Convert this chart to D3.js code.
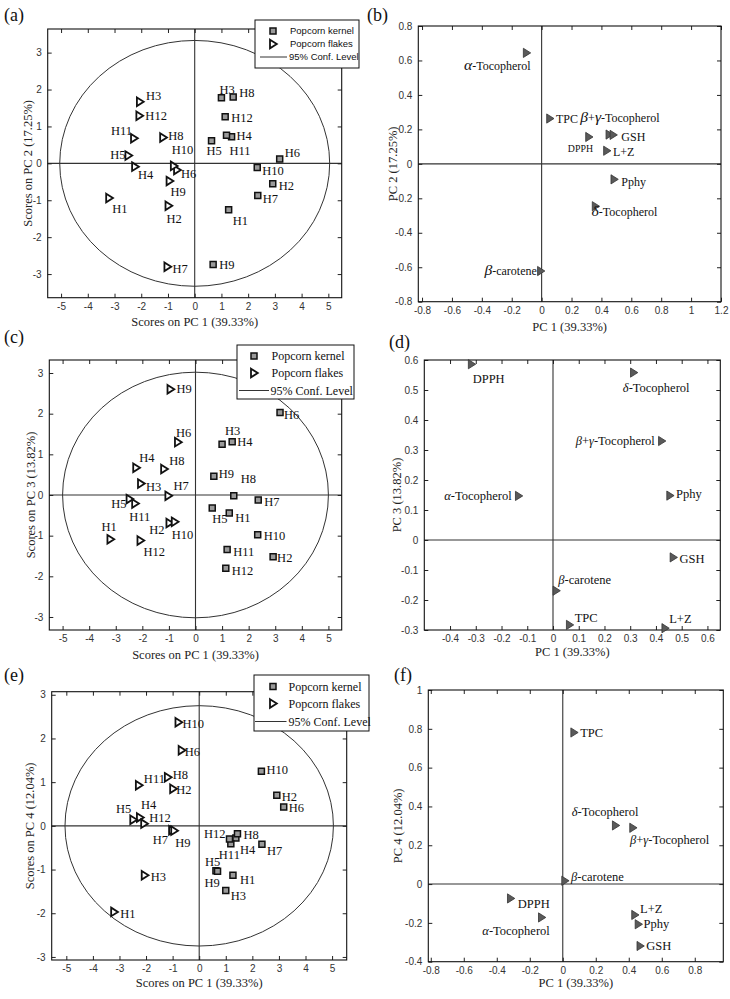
<!DOCTYPE html>
<html><head><meta charset="utf-8">
<script src="https://cdn.jsdelivr.net/npm/d3@7"></script>
<style>body{margin:0;background:#fff}svg{display:block}</style>
</head><body>
<svg id="chart" width="730" height="999"></svg>
<script>
// ---------------- DATA ----------------
const hybrids = ["H1","H2","H3","H4","H5","H6","H7","H8","H9","H10","H11","H12"];
// scores, popcorn kernel
const kernelPC1 = [1.27, 2.92, 1.00, 1.38, 0.63, 3.18, 2.36, 1.44, 0.69, 2.34, 1.19, 1.14];
const kernelPC2 = [-1.26, -0.55, 1.78, 0.72, 0.61, 0.12, -0.87, 1.80, -2.74, -0.11, 0.76, 1.26];
const kernelPC3 = [-0.44, -1.52, 1.25, 1.31, -0.32, 2.03, -0.12, -0.02, 0.46, -0.98, -1.34, -1.80];
const kernelPC4 = [-1.13, 0.70, -1.48, -0.28, -1.03, 0.43, -0.42, -0.18, -1.04, 1.25, -0.41, -0.30];
// scores, popcorn flakes
const flakesPC1 = [-3.20, -0.98, -2.05, -2.23, -2.48, -0.66, -1.02, -1.18, -0.94, -0.78, -2.27, -2.07];
const flakesPC2 = [-0.94, -1.15, 1.67, -0.09, 0.21, -0.18, -2.80, 0.70, -0.48, -0.07, 0.68, 1.29];
const flakesPC3 = [-1.09, -0.69, 0.28, 0.67, -0.10, 1.30, -0.02, 0.64, 2.60, -0.66, -0.21, -1.12];
const flakesPC4 = [-1.97, 0.85, -1.13, 0.19, 0.14, 1.73, -0.10, 1.11, -0.11, 2.37, 0.93, 0.05];
// loadings
const variables = ["α-Tocopherol","β+γ-Tocopherol","δ-Tocopherol","β-carotene","L+Z","TPC","DPPH","GSH","Pphy"];
const loadB_PC1 = [-0.10, 0.453, 0.361, -0.005, 0.437, 0.056, 0.317, 0.48, 0.486];
const loadB_PC2 = [0.644, 0.17, -0.246, -0.622, 0.076, 0.263, 0.156, 0.168, -0.09];
const loadD_PC1 = [-0.133, 0.423, 0.314, 0.013, 0.436, 0.065, -0.316, 0.468, 0.455];
const loadD_PC3 = [0.147, 0.33, 0.558, -0.169, -0.294, -0.283, 0.586, -0.058, 0.148];
const loadF_PC1 = [-0.127, 0.426, 0.321, 0.014, 0.438, 0.069, -0.315, 0.47, 0.459];
const loadF_PC4 = [-0.172, 0.29, 0.302, 0.017, -0.159, 0.781, -0.074, -0.319, -0.207];
// axis titles & legend text
const scoreXTitle = "Scores on PC 1 (39.33%)";
const loadXTitle = "PC 1 (39.33%)";
const legendText = ["Popcorn kernel","Popcorn flakes","95% Conf. Level"];
const ticksScoreX = [-5,-4,-3,-2,-1,0,1,2,3,4,5];
const ticksA_Y = [-3,-2,-1,0,1,2,3];
const ticksB_X = [-0.8,-0.6,-0.4,-0.2,0,0.2,0.4,0.6,0.8,1,1.2];
const ticksB_Y = [-0.8,-0.6,-0.4,-0.2,0,0.2,0.4,0.6,0.8];
const ticksD_X = [-0.4,-0.3,-0.2,-0.1,0,0.1,0.2,0.3,0.4,0.5,0.6];
const ticksD_Y = [-0.3,-0.2,-0.1,0,0.1,0.2,0.3,0.4,0.5,0.6];
const ticksF_X = [-0.8,-0.6,-0.4,-0.2,0,0.2,0.4,0.6,0.8];
const ticksF_Y = [-0.4,-0.2,0,0.2,0.4,0.6,0.8,1];

// ---------------- LABEL LAYOUT (anchor, dx, dy) ----------------
const labA_k = [["s",4,11],["s",6,2],["s",-2,-8],["s",5,-1],["s",-5,10],["s",5,-6],["s",5,3],["s",6,-4],["s",6,0],["s",5,3],["s",3,15],["s",6,1]];
const labA_f = [["s",3,11],["s",-2,13],["s",6,-6],["s",3,8],["e",-3,-1],["s",4,4],["s",5,2],["s",5,-2],["s",1,11],["s",-2,-16],["e",-2,-8],["s",6,0]];
const labC_k = [["s",6,5],["s",4,1],["s",3,-14],["s",5,0],["s",0,11],["s",4,2],["s",6,2],["s",7,-17],["s",5,-3],["s",6,1],["s",6,2],["s",6,2]];
const labC_f = [["s",-9,-13],["e",-5,7],["s",5,3],["s",3,-10],["e",-3,5],["s",-2,-10],["s",5,-10],["s",5,-8],["s",6,-1],["s",-3,13],["s",-6,13],["s",3,11]];
const labE_k = [["s",7,4],["s",5,1],["s",5,5],["s",4,12],["s",-11,-9],["s",5,1],["s",5,6],["s",6,1],["s",-13,11],["s",5,-2],["s",-12,11],["e",-4,-5]];
const labE_f = [["s",6,2],["s",3,1],["s",6,1],["s",1,-13],["e",-2,-11],["s",3,1],["e",-4,9],["s",5,-3],["s",1,12],["s",4,1],["s",5,-7],["s",5,-6]];
const labB = [["e",4,13],["s",-29,-17],["s",-4,6],["e",-4,0],["s",6,1],["s",6,0],["e",4,12,0.82],["s",8,2],["s",7,2]];
const labD = [["e",-7,0],["e",-7,0],["s",-11,15],["s",2,-11],["s",4,-10],["s",5,-7],["s",1,14],["s",6,1],["s",6,-2]];
const labF = [["e",8,13],["s",-3,12],["s",-44,-14],["s",6,-4],["s",5,-6],["s",6,0],["s",7,5],["s",6,0],["s",5,-1]];

// ---------------- DRAWING ----------------
const svg = d3.select("#chart");
const serif = "'Liberation Serif','Times New Roman',serif";
const sans = "'Liberation Sans',Arial,sans-serif";
const fmt = v => String(Math.round(v * 100) / 100);

function frame(cfg) {
  const g = svg.append("g");
  const x = d3.scaleLinear().domain(cfg.xDomain).range([cfg.left, cfg.right]);
  const y = d3.scaleLinear().domain(cfg.yDomain).range([cfg.bottom, cfg.top]);
  const w = cfg.right - cfg.left, h = cfg.bottom - cfg.top;
  const back = g.append("g");
  back.append("line").attr("x1", x(0)).attr("x2", x(0)).attr("y1", cfg.top).attr("y2", cfg.bottom)
    .attr("stroke", "#333").attr("stroke-width", 1.1);
  back.append("line").attr("x1", cfg.left).attr("x2", cfg.right).attr("y1", y(0)).attr("y2", y(0))
    .attr("stroke", "#333").attr("stroke-width", 1.1);
  const axStyle = sel => {
    sel.select(".domain").remove();
    sel.selectAll("line").attr("stroke", "#222");
    sel.selectAll("text").attr("font-family", sans).attr("font-size", 10).attr("fill", "#333");
  };
  const front = g.append("g");
  front.append("g").attr("transform", `translate(0,${cfg.bottom})`)
    .call(d3.axisBottom(x).tickValues(cfg.xTicks).tickSizeInner(-4).tickSizeOuter(0).tickPadding(5).tickFormat(fmt)).call(axStyle);
  front.append("g").attr("transform", `translate(0,${cfg.top})`)
    .call(d3.axisTop(x).tickValues(cfg.xTicks).tickSizeInner(-4).tickSizeOuter(0).tickFormat("")).call(axStyle);
  front.append("g").attr("transform", `translate(${cfg.left},0)`)
    .call(d3.axisLeft(y).tickValues(cfg.yTicks).tickSizeInner(-4).tickSizeOuter(0).tickPadding(6).tickFormat(fmt)).call(axStyle);
  front.append("g").attr("transform", `translate(${cfg.right},0)`)
    .call(d3.axisRight(y).tickValues(cfg.yTicks).tickSizeInner(-4).tickSizeOuter(0).tickFormat("")).call(axStyle);
  front.append("rect").attr("x", cfg.left).attr("y", cfg.top).attr("width", w).attr("height", h)
    .attr("fill", "none").attr("stroke", "#111").attr("stroke-width", 1.1);
  g.append("text").attr("x", (cfg.left + cfg.right) / 2).attr("y", cfg.xTitleY)
    .attr("text-anchor", "middle").attr("font-family", serif).attr("font-size", 12.5).attr("fill", "#222").text(cfg.xTitle);
  g.append("text").attr("transform", `translate(${cfg.yTitleX},${(cfg.top + cfg.bottom) / 2}) rotate(-90)`)
    .attr("text-anchor", "middle").attr("dy", "0.35em").attr("font-family", serif).attr("font-size", 12.5).attr("fill", "#222").text(cfg.yTitle);
  g.append("text").attr("x", cfg.letterX).attr("y", cfg.letterY).attr("font-family", serif).attr("font-size", 18)
    .attr("fill", "#111").text(cfg.letter);
  return { g, back, front, x, y };
}

const squarePath = "M-3,-3H3V3H-3Z";
const triOpen = "M-3,-4.3L3.8,0L-3,4.3Z";
const triFill = "M-3.3,-4.6L4,0L-3.3,4.6Z";

function putLabel(layer, px, py, text, lay, size, greekScale) {
  const [anc, dx, dy, sc] = lay;
  const t = layer.append("text").attr("x", px + dx).attr("y", py + dy).attr("dy", "0.35em")
    .attr("text-anchor", anc === "e" ? "end" : "start").attr("font-family", serif)
    .attr("font-size", size * (sc || 1)).attr("fill", "#111");
  const parts = text.match(/[α-ω]|[^α-ω]+/g);
  parts.forEach(p => {
    const ts = t.append("tspan").text(p);
    if (/[α-ω]/.test(p)) ts.attr("font-style", "italic").attr("font-size", size * (sc || 1) * greekScale);
  });
}

function scorePanel(cfg) {
  const { g, back, x, y } = frame(cfg);
  back.append("ellipse").attr("cx", x(0)).attr("cy", y(0))
    .attr("rx", x(cfg.ellipse[0]) - x(0)).attr("ry", y(0) - y(cfg.ellipse[1]))
    .attr("fill", "none").attr("stroke", "#333").attr("stroke-width", 1);
  const marks = g.append("g");
  hybrids.forEach((hname, i) => {
    const px = x(kernelPC1[i]), py = y(cfg.kY[i]);
    marks.append("path").attr("d", squarePath).attr("transform", `translate(${px},${py})`)
      .attr("fill", "#9a9a9a").attr("stroke", "#111").attr("stroke-width", 1.5);
    putLabel(marks, px, py, hname, cfg.kLab[i], 12.5, 1);
  });
  hybrids.forEach((hname, i) => {
    const px = x(flakesPC1[i]), py = y(cfg.fY[i]);
    marks.append("path").attr("d", triOpen).attr("transform", `translate(${px},${py})`)
      .attr("fill", "#fff").attr("stroke", "#111").attr("stroke-width", 1.8);
    putLabel(marks, px, py, hname, cfg.fLab[i], 12.5, 1);
  });
  const L = cfg.legend;
  const lg = g.append("g");
  lg.append("rect").attr("x", L.x0).attr("y", L.y0).attr("width", L.x1 - L.x0).attr("height", L.y1 - L.y0)
    .attr("fill", "#fff").attr("stroke", "#111").attr("stroke-width", 1);
  lg.append("path").attr("d", squarePath).attr("transform", `translate(${L.mx},${L.rows[0]})`)
    .attr("fill", "#9a9a9a").attr("stroke", "#111").attr("stroke-width", 1.5);
  lg.append("path").attr("d", triOpen).attr("transform", `translate(${L.mx},${L.rows[1]})`)
    .attr("fill", "#fff").attr("stroke", "#111").attr("stroke-width", 1.8);
  lg.append("line").attr("x1", L.lx0).attr("x2", L.lx1).attr("y1", L.rows[2]).attr("y2", L.rows[2])
    .attr("stroke", "#333").attr("stroke-width", 1);
  legendText.forEach((t, i) => {
    lg.append("text").attr("x", i === 2 ? L.tx2 : L.tx).attr("y", L.rows[i]).attr("dy", "0.35em")
      .attr("font-family", L.font).attr("font-size", L.size).attr("fill", "#111").text(t);
  });
}

function loadingPanel(cfg) {
  const { g, x, y } = frame(cfg);
  const marks = g.append("g");
  variables.forEach((v, i) => {
    const px = x(cfg.lx[i]), py = y(cfg.ly[i]);
    marks.append("path").attr("d", triFill).attr("transform", `translate(${px},${py})`)
      .attr("fill", "#5a5a5a").attr("stroke", "#333").attr("stroke-width", 0.8);
  });
  variables.forEach((v, i) => {
    const px = x(cfg.lx[i]), py = y(cfg.ly[i]);
    putLabel(marks, px, py, v, cfg.lab[i], cfg.fontSize, cfg.greekScale);
  });
}

// (a)
scorePanel({
  left: 47.7, right: 341.7, top: 29, bottom: 297.7,
  xDomain: [-5.5, 5.5], yDomain: [-3.64, 3.64], xTicks: ticksScoreX, yTicks: ticksA_Y,
  xTitle: scoreXTitle, yTitle: "Scores on PC 2 (17.25%)", xTitleY: 326, yTitleX: 28,
  letter: "(a)", letterX: 4, letterY: 21,
  ellipse: [5.05, 3.33], kY: kernelPC2, fY: flakesPC2, kLab: labA_k, fLab: labA_f,
  legend: { x0: 255, y0: 20, x1: 359, y1: 68, mx: 273, rows: [31, 44, 57], lx0: 260, lx1: 287, tx: 290, tx2: 289, font: sans, size: 9.5 }
});
// (b)
loadingPanel({
  left: 418.3, right: 721, top: 26, bottom: 301.7,
  xDomain: [-0.825, 1.2], yDomain: [-0.8, 0.8], xTicks: ticksB_X, yTicks: ticksB_Y,
  xTitle: loadXTitle, yTitle: "PC 2 (17.25%)", xTitleY: 331, yTitleX: 393,
  letter: "(b)", letterX: 367, letterY: 21,
  lx: loadB_PC1, ly: loadB_PC2, lab: labB, fontSize: 12, greekScale: 1.3
});
// (c)
scorePanel({
  left: 49.3, right: 341.7, top: 360, bottom: 630,
  xDomain: [-5.5, 5.5], yDomain: [-3.32, 3.32], xTicks: ticksScoreX, yTicks: ticksA_Y,
  xTitle: scoreXTitle, yTitle: "Scores on PC 3 (13.82%)", xTitleY: 659, yTitleX: 31,
  letter: "(c)", letterX: 4, letterY: 343,
  ellipse: [5.0, 3.02], kY: kernelPC3, fY: flakesPC3, kLab: labC_k, fLab: labC_f,
  legend: { x0: 237, y0: 345, x1: 354, y1: 399, mx: 254, rows: [356, 373, 390.5], lx0: 239, lx1: 269, tx: 271.5, tx2: 270.5, font: serif, size: 12 }
});
// (d)
loadingPanel({
  left: 424.3, right: 720.3, top: 360, bottom: 630,
  xDomain: [-0.5, 0.65], yDomain: [-0.3, 0.6], xTicks: ticksD_X, yTicks: ticksD_Y,
  xTitle: loadXTitle, yTitle: "PC 3 (13.82%)", xTitleY: 656, yTitleX: 397,
  letter: "(d)", letterX: 389, letterY: 348,
  lx: loadD_PC1, ly: loadD_PC3, lab: labD, fontSize: 12.5, greekScale: 1
});
// (e)
scorePanel({
  left: 51.7, right: 346.7, top: 691.7, bottom: 960,
  xDomain: [-5.55, 5.55], yDomain: [-3.07, 3.07], xTicks: ticksScoreX, yTicks: ticksA_Y,
  xTitle: scoreXTitle, yTitle: "Scores on PC 4 (12.04%)", xTitleY: 987, yTitleX: 30,
  letter: "(e)", letterX: 4, letterY: 681,
  ellipse: [5.05, 2.75], kY: kernelPC4, fY: flakesPC4, kLab: labE_k, fLab: labE_f,
  legend: { x0: 254, y0: 675, x1: 369, y1: 731, mx: 273, rows: [686.5, 703.5, 721.5], lx0: 255, lx1: 286.5, tx: 288.5, tx2: 288.5, font: serif, size: 12 }
});
// (f)
loadingPanel({
  left: 428.3, right: 723.3, top: 690, bottom: 961.7,
  xDomain: [-0.815, 0.973], yDomain: [-0.4, 1.0], xTicks: ticksF_X, yTicks: ticksF_Y,
  xTitle: loadXTitle, yTitle: "PC 4 (12.04%)", xTitleY: 987, yTitleX: 398,
  letter: "(f)", letterX: 394, letterY: 681,
  lx: loadF_PC1, ly: loadF_PC4, lab: labF, fontSize: 12.5, greekScale: 1
});
</script>
</body></html>
